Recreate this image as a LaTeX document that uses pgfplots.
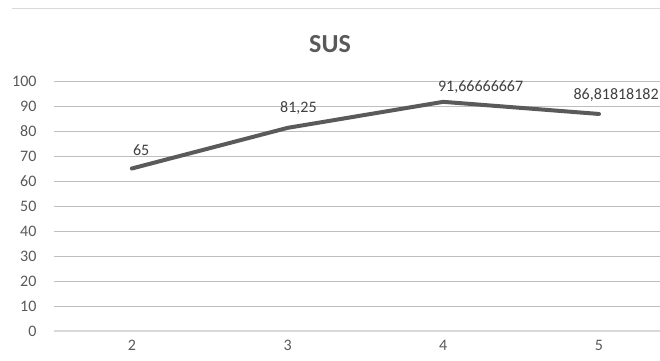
\documentclass[border=0pt]{standalone}
\usepackage{pgfplots}
\pgfplotsset{compat=1.18}
\usepackage{fontspec}
\setmainfont{Carlito}
\definecolor{txt}{HTML}{595959}
\definecolor{lbl}{HTML}{404040}
\definecolor{grid}{HTML}{D9D9D9}
\definecolor{ln}{HTML}{5A5A5A}
\begin{document}
\begin{tikzpicture}[x=1pt,y=1pt]
\useasboundingbox (0,0) rectangle (660,360);
\draw[grid, line width=1pt] (12,352) -- (660,352);
\node[text=txt, font=\fontsize{26}{30}\selectfont\bfseries] at (330,316) {SUS};
\begin{axis}[
  at={(54pt,29pt)}, anchor=south west,
  scale only axis, width=606pt, height=250pt,
  xmin=-0.5, xmax=3.392, ymin=0, ymax=100,
  xtick={0,1,2,3}, xticklabels={2,3,4,5},
  ytick={0,10,...,100},
  axis lines*=left,
  ymajorgrids=true, xmajorgrids=false,
  grid style={grid, line width=0.8pt},
  y axis line style={draw=none},
  x axis line style={grid, line width=1.5pt, -},
  major tick length=0pt,
  tick label style={text=txt, font=\fontsize{16}{18}\selectfont},
  /pgf/number format/assume math mode=true,
  yticklabel style={anchor=east, xshift=-14pt},
  xticklabel style={yshift=-6pt},
  clip=false,
]
\addplot[ln, line width=4pt, line cap=round, line join=round] coordinates {
  (0,65) (1,81.25) (2,91.66666667) (3,86.81818182)};
\begin{scope}[every node/.style={text=lbl, font=\fontsize{16}{18}\selectfont}]
\node at (axis cs:0.06,72.5) {65};
\node at (axis cs:1.07,89.3) {81,25};
\node at (axis cs:2.24,97.6) {91,66666667};
\node at (axis cs:3.11,94.2) {86,81818182};
\end{scope}
\end{axis}
\end{tikzpicture}
\end{document}
